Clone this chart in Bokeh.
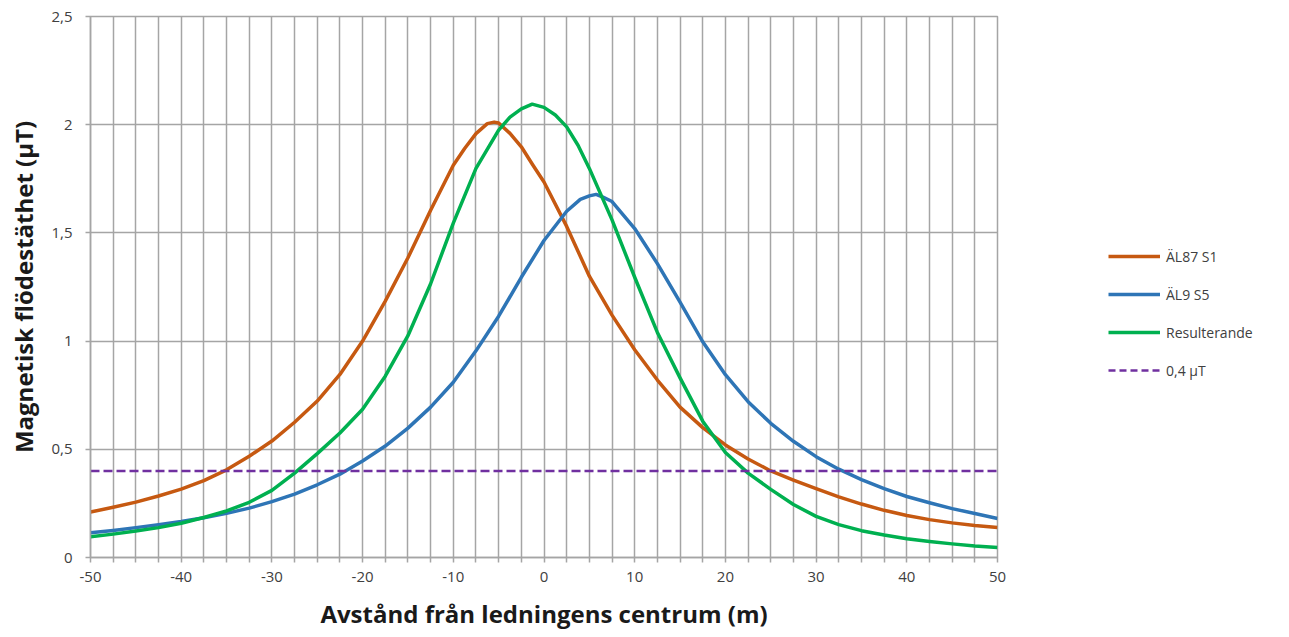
from bokeh.plotting import figure
from bokeh.layouts import row
from bokeh.models import FixedTicker, Legend, LegendItem, Range1d
from bokeh.embed import file_html
from bokeh.resources import INLINE

# ---- data ----
orange_x = [-50, -47.5, -45, -42.5, -40, -37.5, -35, -32.5, -30, -27.5, -25, -22.5, -20, -17.5, -15,
            -12.5, -10, -8.75, -7.5, -6.25, -5.5, -5, -3.75, -2.5, -1.25, 0, 2.5, 5, 7.5, 10, 12.5, 15, 17.5, 20,
            22.5, 25, 27.5, 30, 32.5, 35, 37.5, 40, 42.5, 45, 47.5, 50]
orange_y = [0.21, 0.232, 0.256, 0.284, 0.316, 0.355, 0.405, 0.468, 0.538, 0.625, 0.723, 0.846, 1.0, 1.185, 1.385,
            1.605, 1.813, 1.89, 1.959, 2.005, 2.012, 2.008, 1.96, 1.898, 1.815, 1.735, 1.53, 1.30, 1.12, 0.96, 0.82, 0.695, 0.60, 0.52,
            0.455, 0.40, 0.358, 0.318, 0.28, 0.247, 0.218, 0.194, 0.175, 0.16, 0.148, 0.139]

blue_x = [-50, -47.5, -45, -42.5, -40, -37.5, -35, -32.5, -30, -27.5, -25, -22.5, -20, -17.5, -15,
          -12.5, -10, -7.5, -5, -2.5, 0, 2.5, 4, 5, 5.75, 6.5, 7.5, 10, 12.5, 15, 17.5, 20, 22.5, 25,
          27.5, 30, 32.5, 35, 37.5, 40, 42.5, 45, 47.5, 50]
blue_y = [0.114, 0.125, 0.138, 0.151, 0.166, 0.184, 0.204, 0.228, 0.258, 0.293, 0.336, 0.385, 0.446, 0.515, 0.598,
          0.695, 0.81, 0.955, 1.115, 1.295, 1.465, 1.60, 1.655, 1.671, 1.678, 1.665, 1.645, 1.52, 1.358, 1.18, 0.997, 0.845, 0.72, 0.62,
          0.537, 0.466, 0.408, 0.36, 0.318, 0.282, 0.253, 0.226, 0.203, 0.18]

green_x = [-50, -47.5, -45, -42.5, -40, -37.5, -35, -32.5, -30, -27.5, -25, -22.5, -20, -17.5, -15,
           -12.5, -10, -7.5, -5, -3.75, -2.5, -1.3, 0, 1.25, 2.5, 3.75, 5, 7.5, 10, 12.5, 15, 17.5, 20, 22.5, 25,
           27.5, 30, 32.5, 35, 37.5, 40, 42.5, 45, 47.5, 50]
green_y = [0.096, 0.108, 0.122, 0.138, 0.158, 0.185, 0.215, 0.255, 0.31, 0.39, 0.48, 0.575, 0.685, 0.838, 1.025,
           1.265, 1.545, 1.798, 1.975, 2.035, 2.073, 2.095, 2.08, 2.045, 1.99, 1.905, 1.798, 1.56, 1.295, 1.04, 0.83, 0.63, 0.485, 0.39, 0.315,
           0.245, 0.19, 0.152, 0.124, 0.104, 0.087, 0.074, 0.063, 0.053, 0.046]

limit_x = [-50, 50]
limit_y = [0.4, 0.4]

series_labels = ["ÄL87 S1", "ÄL9 S5", "Resulterande", "0,4 µT"]
series_colors = ["#C65911", "#2E75B6", "#00B050", "#7030A0"]

x_ticks = [-50 + 2.5 * i for i in range(41)]
x_labels = {t: (str(int(t)) if t % 10 == 0 else "") for t in x_ticks}
y_ticks = [0, 0.5, 1.0, 1.5, 2.0, 2.5]
y_labels = {0: "0", 0.5: "0,5", 1.0: "1", 1.5: "1,5", 2.0: "2", 2.5: "2,5"}

FONT = "Open Sans"
GRID = "#a5a5a5"

p = figure(width=1050, height=637, x_range=Range1d(-50, 50), y_range=Range1d(0, 2.5),
           output_backend="svg", toolbar_location=None,
           min_border_left=90, min_border_right=53, min_border_top=16, min_border_bottom=80)
p.background_fill_color = "white"
p.border_fill_color = "white"
p.outline_line_color = GRID
p.outline_line_width = 1.5

# axes
p.xaxis.ticker = FixedTicker(ticks=x_ticks)
p.xaxis.major_label_overrides = x_labels
p.yaxis.ticker = FixedTicker(ticks=y_ticks)
p.yaxis.major_label_overrides = y_labels
for ax in (p.xaxis, p.yaxis):
    ax.minor_tick_line_color = None
    ax.major_tick_in = 0
    ax.major_tick_out = 5
    ax.major_tick_line_color = GRID
    ax.major_tick_line_width = 1.5
    ax.axis_line_color = GRID
    ax.axis_line_width = 1.5
    ax.major_label_text_font = FONT
    ax.major_label_text_font_size = "15px"
    ax.major_label_text_color = "#404040"
    ax.axis_label_text_font = FONT
    ax.axis_label_text_font_size = "24px"
    ax.axis_label_text_font_style = "bold"
    ax.axis_label_text_color = "#1a1a1a"
p.xaxis.axis_label = "Avstånd från ledningens centrum (m)"
p.yaxis.axis_label = "Magnetisk flödestäthet (µT)"
p.xaxis.major_label_standoff = 9
p.xaxis.axis_label_standoff = 12
p.yaxis.major_label_standoff = 13
p.yaxis.axis_label_standoff = 8

# grid
p.xgrid.ticker = FixedTicker(ticks=x_ticks)
p.ygrid.ticker = FixedTicker(ticks=y_ticks)
for g in (p.xgrid, p.ygrid):
    g.grid_line_color = GRID
    g.grid_line_width = 1.5

p.line(orange_x, orange_y, line_color=series_colors[0], line_width=3.5, line_join="round")
p.line(blue_x, blue_y, line_color=series_colors[1], line_width=3.5, line_join="round")
p.line(green_x, green_y, line_color=series_colors[2], line_width=3.5, line_join="round")
p.line(limit_x, limit_y, line_color=series_colors[3], line_width=2.5, line_dash="9 4")

# legend panel: a separate figure to the right whose ranges lie outside the data,
# so its proxy lines (same series) stay out of view and only the legend shows
q = figure(width=239, height=637, x_range=Range1d(100, 101), y_range=Range1d(100, 101),
           output_backend="svg", toolbar_location=None,
           x_axis_location=None, y_axis_location=None, min_border=0)
q.grid.visible = False
q.outline_line_color = None
q.background_fill_color = "white"
q.border_fill_color = "white"
l1 = q.line(orange_x, orange_y, line_color=series_colors[0], line_width=3.5)
l2 = q.line(blue_x, blue_y, line_color=series_colors[1], line_width=3.5)
l3 = q.line(green_x, green_y, line_color=series_colors[2], line_width=3.5)
l4 = q.line(limit_x, limit_y, line_color=series_colors[3], line_width=2.5, line_dash="7 4")

legend = Legend(items=[LegendItem(label=series_labels[0], renderers=[l1]),
                       LegendItem(label=series_labels[1], renderers=[l2]),
                       LegendItem(label=series_labels[2], renderers=[l3]),
                       LegendItem(label=series_labels[3], renderers=[l4])],
                location=(58, 177), glyph_width=52, glyph_height=20, label_height=20,
                spacing=18, padding=0, margin=0, label_standoff=6, border_line_color=None,
                background_fill_alpha=0, label_text_font=FONT, label_text_font_size="14px",
                label_text_color="#404040")
q.add_layout(legend, "center")

layout = row(p, q)
open("out.html", "w").write(file_html(layout, INLINE))
